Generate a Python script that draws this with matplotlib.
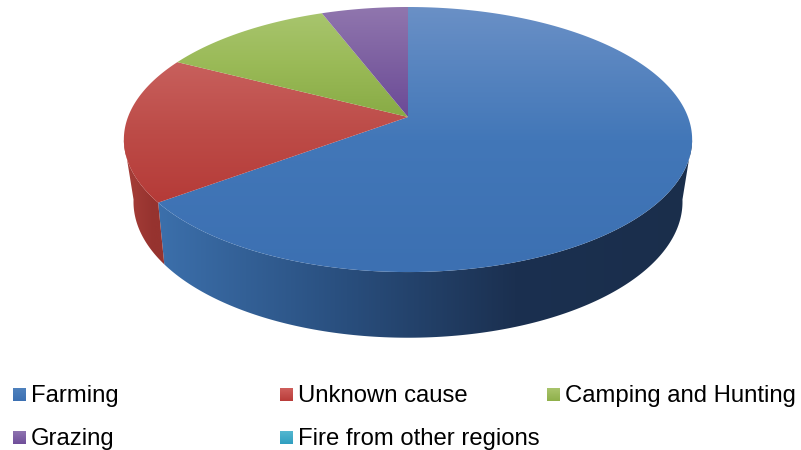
import numpy as np
import matplotlib.pyplot as plt
from matplotlib.colors import LinearSegmentedColormap
from matplotlib.patches import Polygon

plt.rcParams['font.family'] = ['Liberation Sans', 'DejaVu Sans']

# Data (percent)
categories = ['Farming', 'Unknown cause', 'Camping and Hunting', 'Grazing', 'Fire from other regions']
values = [64.8, 17.8, 11.6, 5.8, 0.0]

# top gradient (light to dark), side gradient (left to right)
top_colors = [['#6a90c6', '#4277b8', '#3c70b2'],
              ['#c9625f', '#bd4c48', '#b53a37'],
              ['#a8c56e', '#9aba57', '#88ab45'],
              ['#9076ae', '#7d60a1', '#6b4a97'],
              ['#5fbdd4', '#4bacc6', '#2f9fc0']]
side_colors = [['#3c70ac', '#2a5080', '#1b3050', '#1a2e4b'],
               ['#a9403a', '#a03a35', '#96332f', '#96332f']]
swatch_colors = [['#4f81bd', '#3c70b2'], ['#cf5f5c', '#b93c39'], ['#a9c46c', '#8fb04a'],
                 ['#8f74b0', '#6f4e9a'], ['#55b7d0', '#2f9fc0']]

CX = 408
TOP = dict(y0=117, a=280, b=128.7, k=0.17)
BOTTOM = dict(y0=176, a=269.5, b=131, k=0.19)


def rim(theta, y0, a, b, k):
    # theta runs clockwise from the back of the pie, with a simple perspective
    u, v = np.sin(theta), -np.cos(theta)
    s = 1 / (1 - k * v)
    return CX + a * u * s, y0 + b * v * s


def gradient_fill(ax, colors, extent, path_patch, horizontal=False, zorder=2):
    cmap = LinearSegmentedColormap.from_list('g', colors)
    grad = np.linspace(0, 1, 256)
    grad = grad.reshape(1, -1) if horizontal else grad.reshape(-1, 1)
    ax.add_patch(path_patch)
    im = ax.imshow(grad, cmap=cmap, extent=extent, origin='upper', aspect='auto',
                   interpolation='bilinear', zorder=zorder)
    im.set_clip_path(path_patch)


fig = plt.figure(figsize=(8.01, 4.5), dpi=100)
ax = fig.add_axes([0, 0, 1, 1])

edges = 2 * np.pi * np.concatenate([[0], np.cumsum(values)]) / sum(values)

# side wall, only the part facing the viewer; the ends are the tangent lines
vis_lo, vis_hi = np.radians(100), np.radians(260)
for i, side in enumerate(side_colors):
    lo, hi = max(edges[i], vis_lo), min(edges[i + 1], vis_hi)
    t = np.linspace(lo, hi, 150)
    xt, yt = rim(t, **TOP)
    xb, yb = rim(t, **BOTTOM)
    pts = np.column_stack([np.r_[xt, xb[::-1]], np.r_[yt, yb[::-1]]])
    poly = Polygon(pts, closed=True, fc='none', ec='none', zorder=1)
    extent = (155, 695, 345, 100) if i == 0 else (120, 170, 345, 100)
    gradient_fill(ax, side, extent, poly, horizontal=True, zorder=1)

# top face
for i, val in enumerate(values):
    if val == 0:
        continue
    t = np.linspace(edges[i], edges[i + 1], 200)
    xr, yr = rim(t, **TOP)
    pts = np.column_stack([np.r_[CX, xr], np.r_[TOP['y0'], yr]])
    poly = Polygon(pts, closed=True, fc='none', ec='none', zorder=2)
    ext = {0: (120, 700, 272, 7), 1: (120, 700, 205, 55), 2: (120, 700, 117, 12), 3: (120, 700, 117, 7)}[i]
    gradient_fill(ax, top_colors[i], ext, poly, zorder=2)

# legend, laid out by hand like the original
legend_x = [13, 280, 547, 13, 280]
legend_y = [388, 388, 388, 431, 431]
for name, lx, ly, cols in zip(categories, legend_x, legend_y, swatch_colors):
    sq = Polygon([[lx, ly], [lx + 13, ly], [lx + 13, ly + 13], [lx, ly + 13]],
                 closed=True, fc='none', ec='none', zorder=3)
    gradient_fill(ax, cols, (lx, lx + 13, ly + 13, ly), sq, zorder=3)
    ax.text(lx + 18, ly + 14.3, name, fontsize=17.2, color='#000000', va='baseline', ha='left', zorder=4)

ax.set_xlim(0, 801)
ax.set_ylim(450, 0)
ax.axis('off')
fig.savefig('out.png', dpi=100, facecolor='white')
